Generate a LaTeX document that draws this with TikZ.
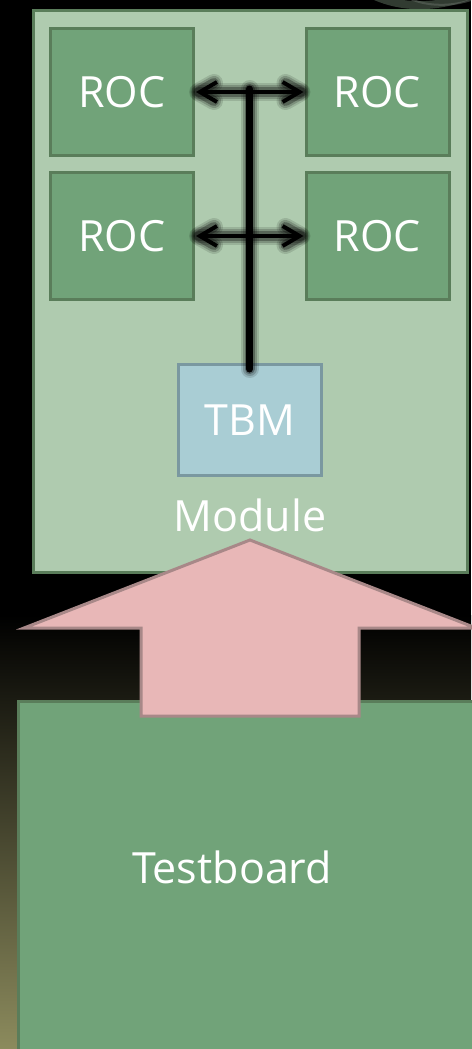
\documentclass[tikz,border=0pt]{standalone}
\usepackage{fontspec}
\setmainfont{Open Sans}
\usetikzlibrary{arrows.meta}
\definecolor{modfill}{HTML}{AFCBAF}
\definecolor{rocfill}{HTML}{71A379}
\definecolor{grnborder}{HTML}{5A7D5A}
\definecolor{tbmfill}{HTML}{A9CDD4}
\definecolor{tbmborder}{HTML}{7A98A0}
\definecolor{pinkfill}{HTML}{E8B7B7}
\definecolor{pinkborder}{HTML}{A88888}
\definecolor{olive}{HTML}{8C8B5D}
\definecolor{swirl}{HTML}{3E4A3E}
\tikzset{
  lbl/.style={text=white,font=\fontsize{43}{50}\selectfont,inner sep=0pt},
  rocbox/.style={draw=grnborder,fill=rocfill,line width=3pt,minimum width=143pt,minimum height=127pt,inner sep=0pt,text=white,font=\fontsize{43}{50}\selectfont},
  tbmbox/.style={draw=tbmborder,fill=tbmfill,line width=3pt,minimum width=143pt,minimum height=111pt,inner sep=0pt,text=white,font=\fontsize{43}{50}\selectfont},
  glow/.style={draw=black,line cap=round,line join=round},
  wire/.style={draw=black,line cap=round},
  barb/.style={{Straight Barb[length=17pt,width=20pt]}-{Straight Barb[length=17pt,width=20pt]}}
}
\newcommand{\glowpaths}[1]{%
  \draw[glow,#1] (bustop) -- (busbot);
  \draw[glow,#1] ([xshift=4pt]roc1.east) -- ([xshift=-4pt]roc2.west);
  \draw[glow,#1] ([xshift=4pt]roc3.east) -- ([xshift=-4pt]roc4.west);
  \draw[glow,#1] ([xshift=19pt,yshift=-9pt]roc1.east) -- ([xshift=3pt]roc1.east) -- ([xshift=19pt,yshift=9pt]roc1.east);
  \draw[glow,#1] ([xshift=-19pt,yshift=-9pt]roc2.west) -- ([xshift=-3pt]roc2.west) -- ([xshift=-19pt,yshift=9pt]roc2.west);
  \draw[glow,#1] ([xshift=19pt,yshift=-9pt]roc3.east) -- ([xshift=3pt]roc3.east) -- ([xshift=19pt,yshift=9pt]roc3.east);
  \draw[glow,#1] ([xshift=-19pt,yshift=-9pt]roc4.west) -- ([xshift=-3pt]roc4.west) -- ([xshift=-19pt,yshift=9pt]roc4.west);}
\begin{document}
\begin{tikzpicture}[x=1pt,y=-1pt]
\useasboundingbox (0,0) rectangle (471,1049);
% background
\fill[black] (0,0) rectangle (471,1049);
\shade[top color=black,bottom color=olive] (0,615) rectangle (471,1049);
% faint swirl top right
\begin{scope}
\clip (300,0) rectangle (471,12);
\draw[swirl,line width=8pt,opacity=0.8] (340,-30) .. controls (370,5) and (420,15) .. (471,-5);
\draw[swirl!80!white,line width=2pt,opacity=0.5] (385,-20) .. controls (405,5) and (440,10) .. (471,0);
\end{scope}
% module
\node[draw=grnborder,fill=modfill,line width=3pt,minimum width=434pt,minimum height=561pt,inner sep=0pt] (module) at (250,291.5) {};
\node[rocbox] (roc1) at (122,92) {ROC};
\node[rocbox] (roc2) at (377.5,92) {ROC};
\node[rocbox] (roc3) at (122,236) {ROC};
\node[rocbox] (roc4) at (377.5,236) {ROC};
\node[tbmbox] (tbm) at (250,420) {TBM};
\node[lbl,anchor=base] (modlbl) at (250,531) {Module};
% coordinates for the bus
\coordinate (bustop) at (249.5,89);
\coordinate (busbot) at (249.5,369);
% glow, layered
\glowpaths{line width=18pt,opacity=0.12}
\glowpaths{line width=14pt,opacity=0.18}
\glowpaths{line width=10pt,opacity=0.3}
% wires
\draw[wire,line width=7pt] (bustop) -- (busbot);
\draw[wire,line width=4pt,barb] ([xshift=1pt]roc1.east) -- ([xshift=-1pt]roc2.west);
\draw[wire,line width=4pt,barb] ([xshift=1pt]roc3.east) -- ([xshift=-1pt]roc4.west);
% testboard
\node[draw=grnborder,fill=rocfill,line width=3pt,minimum width=470pt,minimum height=370pt,inner sep=0pt,anchor=north west] (tb) at (16.5,699.5) {};
\node[lbl,anchor=base] (tblbl) at (232,883) {Testboard};
% big arrow from testboard to module
\draw[draw=pinkborder,fill=pinkfill,line width=3pt,line join=miter] (250,540) -- (476,628) -- (359,628) -- (359,716) -- (141,716) -- (141,628) -- (24,628) -- cycle;
\coordinate (arrowtip) at (250,540);
\end{tikzpicture}
\end{document}
